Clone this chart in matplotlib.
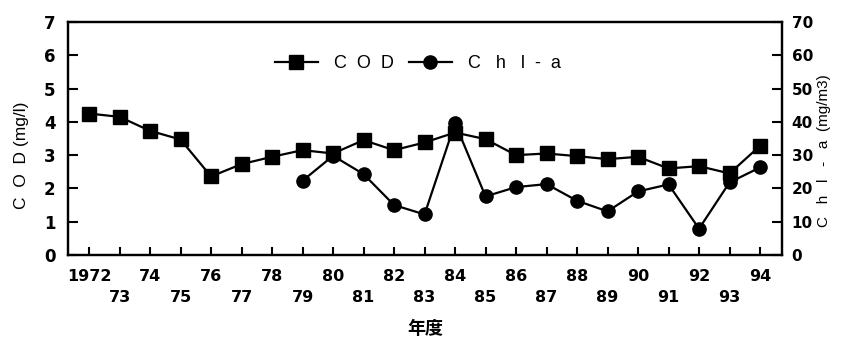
import matplotlib
matplotlib.use("Agg")
import matplotlib.pyplot as plt

years = list(range(1972, 1995))
cod = [4.25, 4.15, 3.73, 3.47, 2.36, 2.73, 2.95, 3.15, 3.05, 3.45, 3.15, 3.38,
       3.68, 3.48, 3.00, 3.05, 2.97, 2.88, 2.95, 2.60, 2.67, 2.45, 3.28]
chl_years = list(range(1979, 1995))
chl = [22.3, 29.8, 24.3, 15.0, 12.2, 39.6, 17.6, 20.4, 21.3, 16.3, 13.1, 19.1,
       21.2, 7.9, 21.8, 26.3]
xtick_labels = ["1972"] + [("\n%02d" % (y % 100)) if (y - 1972) % 2 else "%02d" % (y % 100)
                           for y in years[1:]]
cod_ticks = [0, 1, 2, 3, 4, 5, 6, 7]
chl_ticks = [0, 10, 20, 30, 40, 50, 60, 70]

W, H = 842, 341
fig = plt.figure(figsize=(W / 100, H / 100), dpi=100)
ax = fig.add_axes([68 / W, 1 - 255 / H, (782 - 68) / W, (255 - 22) / H])
ax2 = ax.twinx()

lw = 1.6
l1, = ax.plot(years, cod, color="black", lw=lw, marker="s", ms=10.5, mfc="black",
              mec="black", label="C  O  D", zorder=3)
l2, = ax2.plot(chl_years, chl, color="black", lw=lw, marker="o", ms=9.5, mfc="black",
               mec="black", label="C   h   l  -  a", zorder=3)

ax.set_xlim(1971.31, 1994.72)
ax.set_ylim(0, 7)
ax2.set_ylim(0, 70)
ax.set_xticks(years)
ax.set_xticklabels(xtick_labels, fontsize=11.5, fontweight="bold", family="DejaVu Sans",
                   linespacing=1.5)
ax.set_yticks(cod_ticks)
ax.set_yticklabels([str(v) for v in cod_ticks], fontsize=12, fontweight="bold",
                   family="DejaVu Sans")
ax2.set_yticks(chl_ticks)
ax2.set_yticklabels([str(v) for v in chl_ticks], fontsize=11, fontweight="bold",
                    family="DejaVu Sans")

ax.tick_params(axis="x", direction="in", length=6, width=1.5, pad=10)
ax.tick_params(axis="y", direction="in", length=7, width=1.5, pad=9)
ax2.tick_params(axis="y", direction="in", length=7, width=1.5, pad=7)
for a in (ax, ax2):
    for s in a.spines.values():
        s.set_linewidth(1.6)
        s.set_color("black")

leg = ax.legend(handles=[l1, l2], loc="center", bbox_to_anchor=(0.49, 0.82), ncol=2,
                frameon=False, handlelength=2.4, handletextpad=0.9, columnspacing=0.8,
                prop={"family": "Liberation Sans", "size": 13})

fig.text(22 / W, 1 - 155 / H, "C  O  D (mg/l)", rotation=90, ha="center", va="center",
         fontsize=12.5, family="Liberation Sans")
fig.text(824 / W, 1 - 151 / H, "C   h   l   -   a  (mg/m3)", rotation=90, ha="center",
         va="center", fontsize=11, family="Liberation Sans")
fig.text(425 / W, 1 - 329 / H, "年度", ha="center", va="center", fontsize=13,
         fontweight="bold", family=["Noto Sans CJK JP", "DejaVu Sans"])

fig.savefig("out.png", dpi=100, facecolor="white")
